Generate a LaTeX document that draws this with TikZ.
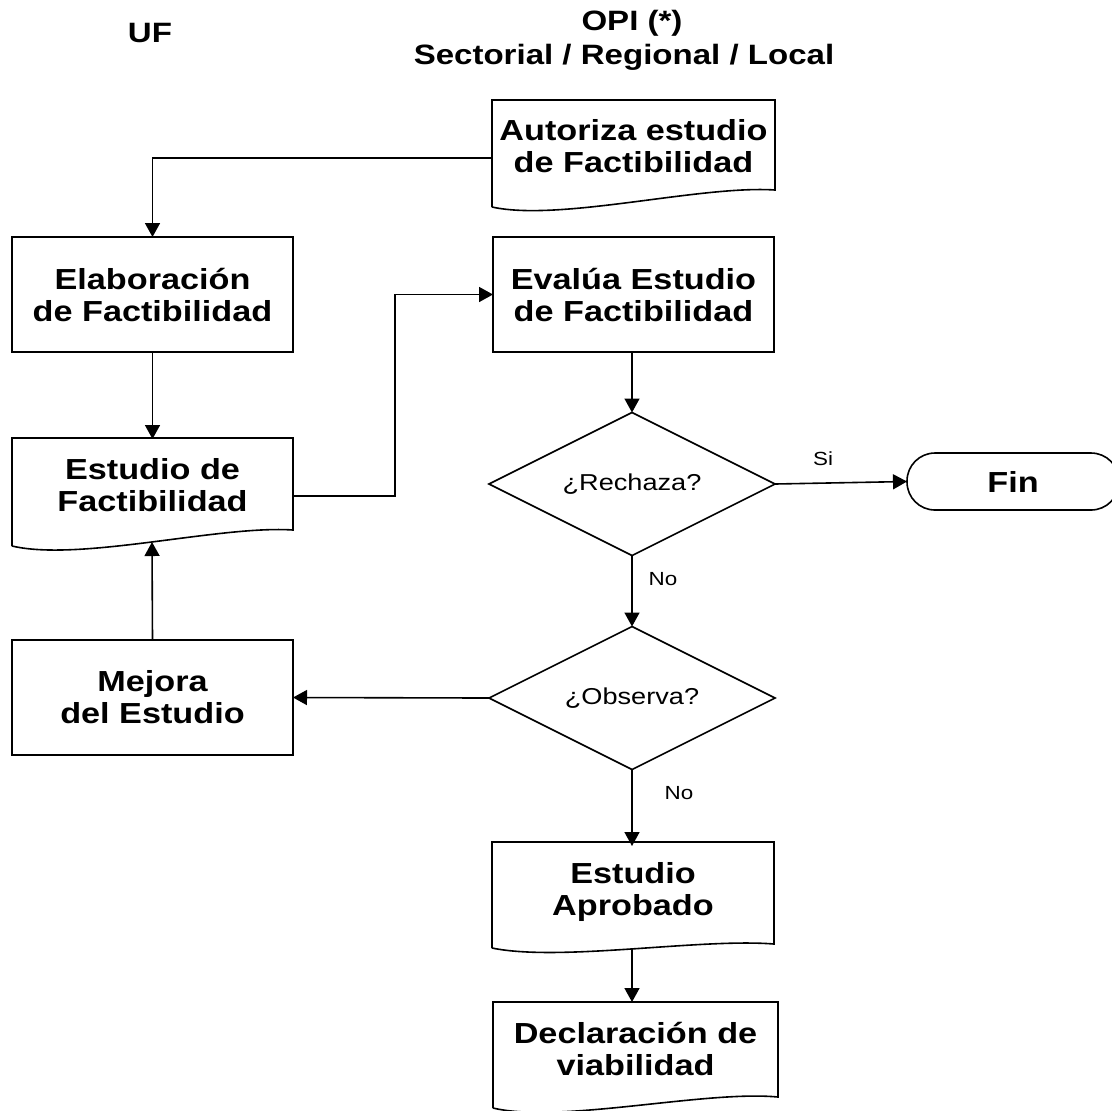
\documentclass[tikz,border=0pt]{standalone}
\usepackage{fontspec}
\setmainfont{Liberation Sans}[FakeStretch=1.18]
\usetikzlibrary{arrows.meta,calc}
\begin{document}
\begin{tikzpicture}[x=0.5pt,y=-0.5pt,line width=0.8pt,
  >={Triangle[length=7pt,width=7.5pt]},
  boxtxt/.style={rectangle,inner sep=0pt,outer sep=0pt,align=center,
     font=\bfseries\fontsize{14.5}{16}\selectfont},
  procbox/.style={boxtxt,draw,minimum width=140.5pt,minimum height=57.5pt},
  docbox/.style={boxtxt,minimum width=141.5pt,minimum height=46pt},
  decision/.style={rectangle,inner sep=0pt,outer sep=0pt,
     minimum width=143pt,minimum height=71.5pt,
     font=\fontsize{11.5}{13}\selectfont},
  terminal/.style={rectangle,draw,rounded corners=14pt,inner sep=0pt,outer sep=0pt,
     minimum width=106pt,minimum height=28.5pt,
     font=\bfseries\fontsize{14.5}{16}\selectfont},
  hdr/.style={inner sep=0pt,font=\bfseries\fontsize{14}{16}\selectfont},
  lbl/.style={inner sep=0pt,font=\fontsize{9.5}{11}\selectfont},
  conn/.style={->}]
\useasboundingbox (0,0) rectangle (1112,1110);

% headers
\node[hdr,anchor=base] (uf) at (150,42) {UF};
\node[hdr,anchor=base] (opi) at (632,30) {OPI (*)};
\node[hdr,anchor=base] (sect) at (624,64) {Sectorial / Regional / Local};

% document shapes (outlines)
\draw (492,207) -- (492,100) -- (775,100) -- (775,190)
   .. controls (700,185) and (560,222) .. (492,207);
\draw (12,546) -- (12,438) -- (293,438) -- (293,530)
   .. controls (220,525) and (80,562) .. (12,546);
\draw (492,948) -- (492,842) -- (774,842) -- (774,944)
   .. controls (700,938) and (560,962) .. (492,948);
\draw (493,1108) -- (493,1002) -- (778,1002) -- (778,1097)
   .. controls (705,1090) and (560,1124) .. (493,1108);

% nodes
\node[docbox] (aut) at (633.5,146) {Autoriza estudio\\ de Factibilidad};
\node[procbox] (elab) at (152.5,294.5) {Elaboración\\de Factibilidad};
\node[procbox] (eval) at (633.5,294.5) {Evalúa Estudio\\de Factibilidad};
\node[docbox] (est) at (152.5,485) {Estudio de\\Factibilidad};
\node[procbox] (mej) at (152.5,697.5) {Mejora\\del Estudio};
\node[decision] (rech) at (632,484) {¿Rechaza?};
\node[decision] (obs) at (632,698) {¿Observa?};
\draw (rech.north) -- (rech.east) -- (rech.south) -- (rech.west) -- cycle;
\draw (obs.north) -- (obs.east) -- (obs.south) -- (obs.west) -- cycle;
\node[terminal] (fin) at (1013,481.5) {Fin};
\node[docbox] (apro) at (633,892) {Estudio\\Aprobado};
\node[docbox] (decl) at (635.5,1049) {Declaración de\\viabilidad};

\coordinate (w1) at (152,542);
\coordinate (w2) at (632,949);

% connectors
\draw[conn] ($(aut.west)+(0,12)$) -| (elab.north);
\draw[conn] (elab.south) -- (est.north);
\draw[conn] ($(est.east)+(0,11)$) -- (395,496) |- (eval.west);
\draw[conn] (rech.north |- eval.south) -- (rech.north);
\draw[conn] (rech.east) -- (fin.west);
\draw[conn] (rech.south) -- (obs.north);
\draw[conn] (obs.west) -- (mej.east);
\draw[conn] (mej.north) -- (w1);
\draw[conn] (obs.south) -- (obs.south |- apro.north);
\draw[conn] (w2) -- (632,1002);

% labels
\node[lbl,anchor=base] (si) at (823,465) {Si};
\node[lbl,anchor=base] (no1) at (663,585) {No};
\node[lbl,anchor=base] (no2) at (679,799) {No};
\end{tikzpicture}
\end{document}
